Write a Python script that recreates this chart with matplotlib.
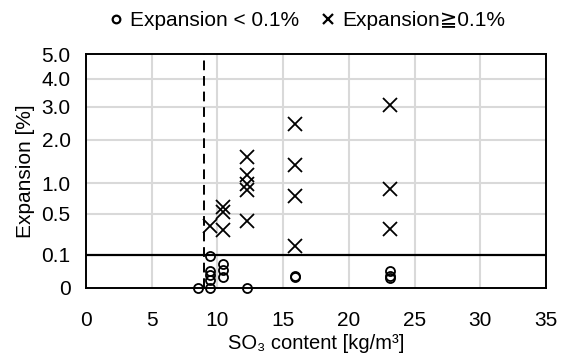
import numpy as np
import matplotlib
matplotlib.use("Agg")
import matplotlib.pyplot as plt
from matplotlib.lines import Line2D

plt.rcParams['font.family'] = ['Liberation Sans', 'DejaVu Sans']

# Data
circle_x = [8.55, 9.45, 9.45, 9.45, 9.45, 9.45, 10.45, 10.45, 10.45, 12.27, 15.9, 15.9, 23.1, 23.1, 23.1]
circle_y = [0, 0.09, 0.027, 0.014, 0.005, 0, 0.052, 0.029, 0.011, 0, 0.012, 0.010, 0.027, 0.012, 0.008]
cross_x = [9.45, 10.45, 10.45, 10.45, 12.23, 12.23, 12.23, 12.23, 12.23, 15.9, 15.9, 15.9, 15.9, 23.1, 23.1, 23.1]
cross_y = [0.35, 0.6, 0.53, 0.31, 1.57, 1.17, 0.99, 0.88, 0.41, 2.45, 1.38, 0.77, 0.163, 3.06, 0.9, 0.32]
threshold_so3 = 9.0
threshold_exp = 0.1
y_ticks = [0, 0.1, 0.5, 1.0, 2.0, 3.0, 4.0, 5.0]
y_labels = ['0', '0.1', '0.5', '1.0', '2.0', '3.0', '4.0', '5.0']
x_ticks = [0, 5, 10, 15, 20, 25, 30, 35]

FS = 15

fig = plt.figure(figsize=(5.68, 3.54), dpi=100)
ax = fig.add_axes([86/568, 1-287.7/354, (546-86)/568, (287.7-54)/354])

ax.set_yscale('function', functions=(lambda v: np.sqrt(np.clip(v, 0, None)), lambda v: np.square(v)))
ax.set_xlim(0, 35)
ax.set_ylim(0, 5)

ax.set_xticks(x_ticks)
ax.set_yticks(y_ticks)
ax.set_yticklabels(y_labels)
ax.minorticks_off()
ax.tick_params(axis='both', length=0, labelsize=FS, colors='black')
ax.tick_params(axis='x', pad=16.5)
ax.tick_params(axis='y', pad=11)

for t in [5, 10, 15, 20, 25, 30]:
    ax.axvline(t, color='#d9d9d9', lw=1.5, zorder=0)
for t in [0.5, 1.0, 2.0, 3.0, 4.0]:
    ax.axhline(t, color='#d9d9d9', lw=1.5, zorder=0)
ax.axhline(threshold_exp, color='black', lw=1.6, zorder=1)
ax.axvline(threshold_so3, color='black', lw=1.4, ls=(0, (5, 3)), zorder=1)

for s in ax.spines.values():
    s.set_color('black')
    s.set_linewidth(1.4)

ax.plot(circle_x, circle_y, ls='none', marker='o', ms=6.5, mfc='none', mec='black', mew=1.3, clip_on=False, zorder=3)
ax.plot(cross_x, cross_y, ls='none', marker='x', ms=10, mec='black', mew=1.3, clip_on=False, zorder=3)

ax.set_xlabel('SO₃ content [kg/m³]', fontsize=14.5, va='bottom')
ax.xaxis.set_label_coords(316/568, 1/354, transform=fig.transFigure)
ax.set_ylabel('Expansion [%]', fontsize=FS, labelpad=5)

handles = [
    Line2D([], [], ls='none', marker='o', ms=5.5, mfc='none', mec='black', mew=1.6),
    Line2D([], [], ls='none', marker='x', ms=6.5, mec='black', mew=1.6),
]
fig.legend(handles, ['Expansion < 0.1%', 'Expansion≧0.1%'], loc='center',
           bbox_to_anchor=(307.5/568, 1-21/354), ncol=2, frameon=False,
           fontsize=FS, handlelength=0.6, handletextpad=0.4, columnspacing=1.06)

fig.savefig('out.png', dpi=100)
